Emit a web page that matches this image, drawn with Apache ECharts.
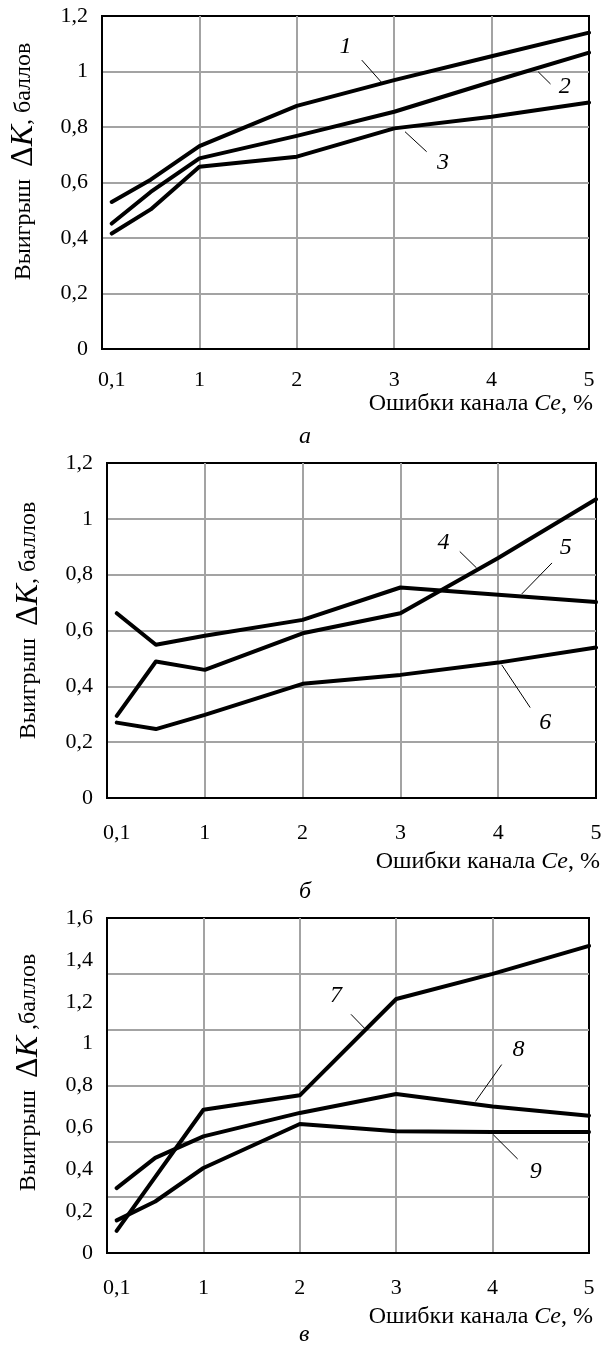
<!DOCTYPE html>
<html>
<head>
<meta charset="utf-8">
<script src="https://cdn.jsdelivr.net/npm/echarts@6.0.0/dist/echarts.min.js"></script>
<style>
html, body { margin: 0; padding: 0; background: #fff; }
#container { width: 611px; height: 1350px; }
</style>
</head>
<body>
<div id="container"></div>
<script>
var dom = document.getElementById("container");
var myChart = echarts.init(dom);
var option;

// x positions (errors of channel Ce, %)
var xValues = [0.1, 0.5, 1, 2, 3, 4, 5];
var xTickLabels = [0.1, 1, 2, 3, 4, 5];

// chart a
var curve1 = [0.53, 0.61, 0.731, 0.876, 0.969, 1.055, 1.14];
var curve2 = [0.452, 0.566, 0.687, 0.768, 0.855, 0.963, 1.068];
var curve3 = [0.416, 0.503, 0.657, 0.693, 0.795, 0.837, 0.888];
// chart б
var curve4 = [0.294, 0.489, 0.459, 0.59, 0.662, 0.86, 1.07];
var curve5 = [0.662, 0.549, 0.581, 0.638, 0.754, 0.728, 0.702];
var curve6 = [0.27, 0.247, 0.298, 0.409, 0.441, 0.485, 0.539];
// chart в (curve 7 has no point at 0,5)
var curve7 = [0.106, null, 0.684, 0.753, 1.213, 1.333, 1.467];
var curve8 = [0.31, 0.454, 0.557, 0.669, 0.759, 0.70, 0.656];
var curve9 = [0.156, 0.246, 0.406, 0.616, 0.581, 0.578, 0.578];

// curve numbers: [label, label position, leader start, leader end]
var notesA = [
    ['1', [2.5, 1.09], [2.667, 1.041], [2.872, 0.96]],
    ['2', [4.75, 0.945], [4.478, 0.999], [4.605, 0.955]],
    ['3', [3.5, 0.67], [3.111, 0.783], [3.333, 0.711]]
];
var notesB = [
    ['4', [3.44, 0.913], [3.607, 0.883], [3.779, 0.824]],
    ['5', [4.69, 0.895], [4.55, 0.842], [4.241, 0.731]],
    ['6', [4.48, 0.268], [4.036, 0.477], [4.327, 0.324]]
];
var notesC = [
    ['7', [2.375, 1.229], [2.531, 1.14], [2.67, 1.074]],
    ['8', [4.268, 0.971], [4.094, 0.9], [3.823, 0.724]],
    ['9', [4.448, 0.39], [4.007, 0.565], [4.26, 0.449]]
];

var FONT = 'Liberation Serif';
var GRID_COLOR = '#a3a3a3';

function comma(v) {
    return String(v).replace('.', ',');
}

function xAxisFor(idx) {
    return {
        type: 'value',
        gridIndex: idx,
        min: 0,
        max: 5,
        interval: 1,
        name: 'Ошибки канала {i|Ce}, %',
        nameLocation: 'end',
        nameGap: 4,
        nameTextStyle: {
            color: '#000', fontFamily: FONT, fontSize: 24,
            align: 'right', verticalAlign: 'top',
            padding: [idx === 0 ? 43 : 52, 0, 0, 0],
            rich: { i: { fontFamily: FONT, fontSize: 24, fontStyle: 'italic', color: '#000' } }
        },
        axisLine: { show: true, lineStyle: { color: '#000', width: 2 } },
        axisTick: { show: false, customValues: [1, 2, 3, 4] },
        splitLine: { show: true, lineStyle: { color: GRID_COLOR, width: 2 } },
        axisLabel: {
            customValues: xTickLabels,
            formatter: comma,
            margin: idx === 0 ? 20 : 24,
            color: '#000', fontFamily: FONT, fontSize: 22
        }
    };
}

function yName(comma2) {
    return 'Выигрыш  {d|Δ}{k|K}' + comma2;
}

function yRich() {
    return {
        d: { fontFamily: FONT, fontSize: 32, color: '#000' },
        k: { fontFamily: FONT, fontSize: 32, fontStyle: 'italic', color: '#000' }
    };
}

function curveSeries(name, values, idx, notes) {
    var s = {
        name: name,
        type: 'line',
        xAxisIndex: idx,
        yAxisIndex: idx,
        symbol: 'none',
        connectNulls: true,
        lineStyle: { color: '#000', width: 4, cap: 'round', join: 'round' },
        data: xValues.map(function (x, i) { return [x, values[i]]; })
    };
    if (notes) {
        s.markLine = {
            silent: true,
            symbol: ['none', 'none'],
            label: { show: false },
            lineStyle: { color: '#000', width: 1, type: 'solid' },
            data: notes.map(function (n) { return [{ coord: n[2] }, { coord: n[3] }]; })
        };
        s.markPoint = {
            symbol: 'circle',
            symbolSize: 0,
            label: {
                show: true, formatter: '{b}', color: '#000',
                fontFamily: FONT, fontSize: 24, fontStyle: 'italic'
            },
            data: notes.map(function (n) { return { name: n[0], coord: n[1] }; })
        };
    }
    return s;
}

function yAxisFor(idx, shift) {
    return {
        type: 'value', gridIndex: idx, min: 0, max: 1.2, interval: 0.2,
        name: yName(', баллов'),
        nameLocation: 'middle', nameRotate: 90, nameGap: 62,
        nameTextStyle: { color: '#000', fontFamily: FONT, fontSize: 24, padding: [0, 0, 0, shift], rich: yRich() },
        axisLine: { show: true, lineStyle: { color: '#000', width: 2 } },
        axisTick: { show: false, customValues: [0.2, 0.4, 0.6, 0.8, 1] },
        splitLine: { show: true, lineStyle: { color: GRID_COLOR, width: 2 } },
        axisLabel: { formatter: comma, margin: 14, color: '#000', fontFamily: FONT, fontSize: 22 }
    };
}

var labelAxisC = {
    type: 'value', gridIndex: 2, min: 0, max: 1.6, interval: 0.2,
    name: 'Выигрыш  {d|Δ}{k|K} ,баллов',
    nameLocation: 'middle', nameRotate: 90, nameGap: 62,
    nameTextStyle: { color: '#000', fontFamily: FONT, fontSize: 24, padding: [0, 0, 0, 26], rich: yRich() },
    axisLine: { show: true, lineStyle: { color: '#000', width: 2 } },
    axisTick: { show: false },
    splitLine: { show: false },
    axisLabel: { formatter: comma, margin: 14, color: '#000', fontFamily: FONT, fontSize: 22 }
};

var captionFont = 'italic 24px "Liberation Serif"';

option = {
    animation: false,
    backgroundColor: '#fff',
    grid: [
        { left: 102, top: 16, width: 487, height: 333, show: true, borderColor: '#000', borderWidth: 2 },
        { left: 107, top: 463, width: 489, height: 335, show: true, borderColor: '#000', borderWidth: 2 },
        { left: 107, top: 918, width: 482, height: 335, show: true, borderColor: '#000', borderWidth: 2 }
    ],
    xAxis: [xAxisFor(0), xAxisFor(1), xAxisFor(2)],
    yAxis: [
        yAxisFor(0, 42),
        yAxisFor(1, 20),
        labelAxisC,
        {
            // grid lines of chart в follow their own spacing
            type: 'value', gridIndex: 2, position: 'left', min: 0, max: 6, interval: 1,
            axisLine: { show: false },
            axisLabel: { show: false },
            axisTick: { show: false, customValues: [1, 2, 3, 4, 5] },
            splitLine: { show: true, lineStyle: { color: GRID_COLOR, width: 2 } }
        }
    ],
    graphic: [
        { type: 'text', left: 299, top: 425, style: { text: 'а', font: captionFont, fill: '#000' } },
        { type: 'text', left: 299, top: 880, style: { text: 'б', font: captionFont, fill: '#000' } },
        { type: 'text', left: 299, top: 1323, style: { text: 'в', font: captionFont, fill: '#000' } }
    ],
    series: [
        curveSeries('1', curve1, 0, notesA),
        curveSeries('2', curve2, 0),
        curveSeries('3', curve3, 0),
        curveSeries('4', curve4, 1, notesB),
        curveSeries('5', curve5, 1),
        curveSeries('6', curve6, 1),
        curveSeries('7', curve7, 2, notesC),
        curveSeries('8', curve8, 2),
        curveSeries('9', curve9, 2)
    ]
};

if (option && typeof option === 'object') {
    myChart.setOption(option);
}
</script>
</body>
</html>
